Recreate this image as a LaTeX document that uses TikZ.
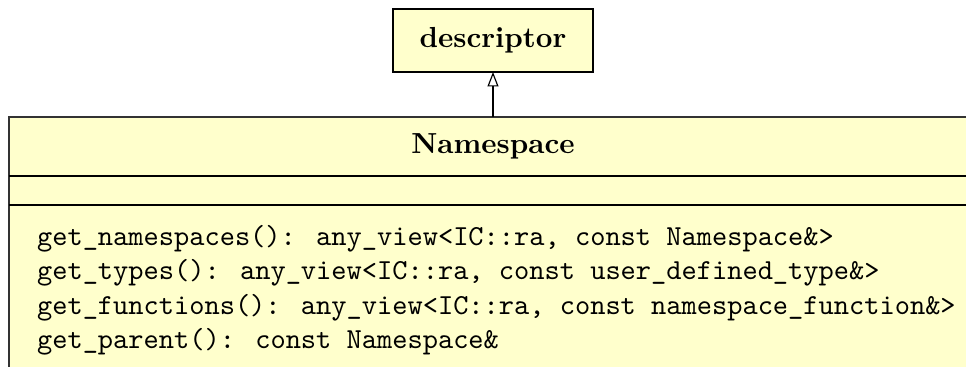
\documentclass[tikz,border=0pt]{standalone}
\usetikzlibrary{arrows.meta}
\definecolor{umlfill}{RGB}{255,255,204}
\tikzset{
  classbox/.style={draw=black!80, line width=0.6pt, fill=umlfill, inner sep=0pt, outer sep=0pt},
  divider/.style={draw=black, line width=0.4pt},
  method/.style={anchor=base west, inner sep=0pt, font=\ttfamily},
  inherit/.style={-{Triangle[open, length=5pt, width=3.8pt]}, line width=0.4pt}
}
\begin{document}
\begin{tikzpicture}[x=0.3448pt, y=-0.3448pt]
  \useasboundingbox (0,0) rectangle (966,367);
  \clip (0,0) rectangle (966,367);
  % descriptor box
  \node[classbox, draw=black, minimum width=68.96pt, minimum height=21.72pt] (desc) at (493,40.5) {\textbf{descriptor}};
  % Namespace box
  \node[classbox, minimum width=333.8pt, minimum height=104.5pt] (ns) at (493,268.5) {};
  \node[inner sep=0pt] (title) at (493,146.5) {\textbf{Namespace}};
  \coordinate (d1) at (9,176);
  \coordinate (d2) at (9,205);
  \draw[divider] (d1) -- (d1 -| ns.east);
  \draw[divider] (d2) -- (d2 -| ns.east);
  \node[method] (m1) at (36.5,245.5) {get\_namespaces(): any\_view<IC::ra, const Namespace\&>};
  \node[method] (m2) at (36.5,280) {get\_types(): any\_view<IC::ra, const user\_defined\_type\&>};
  \node[method] (m3) at (36.5,314.5) {get\_functions(): any\_view<IC::ra, const namespace\_function\&>};
  \node[method] (m4) at (36.5,349) {get\_parent(): const Namespace\&};
  \draw[inherit] (ns.north) -- (desc.south);
\end{tikzpicture}
\end{document}
